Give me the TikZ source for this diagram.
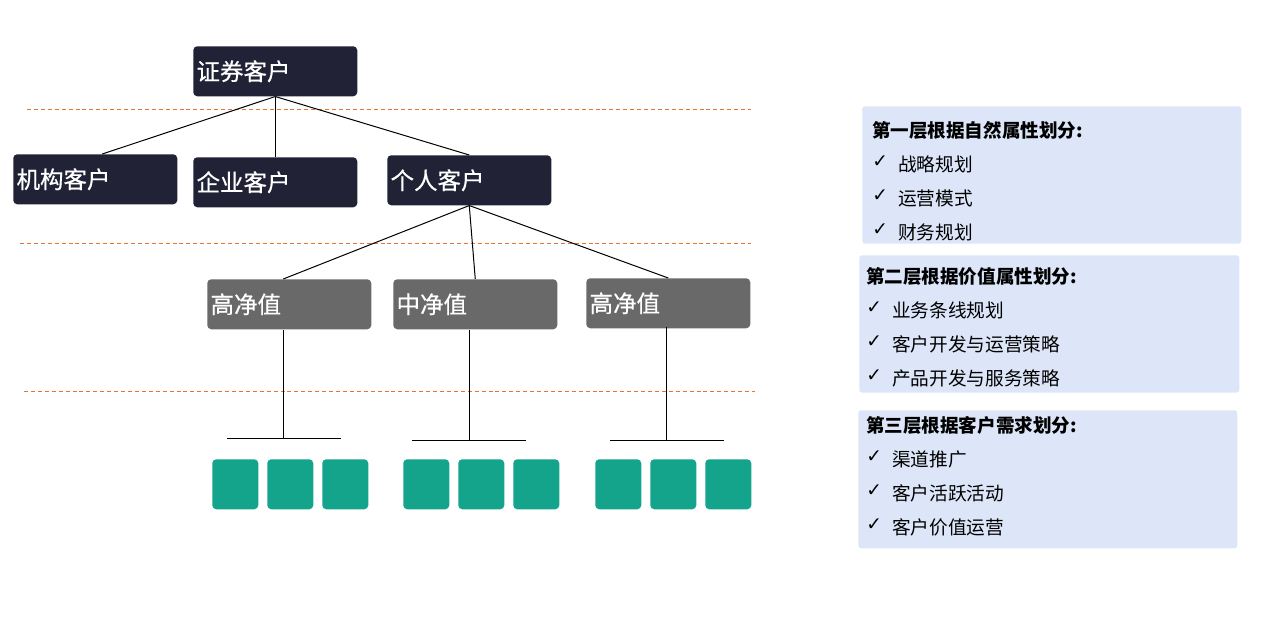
\documentclass[tikz,border=0pt]{standalone}
\usepackage{fontspec}
\usetikzlibrary{calc}
\newfontfamily\cjk{Noto Sans CJK SC}
\newfontfamily\cjkm[FakeBold=0.6]{Noto Sans CJK SC}
\newfontfamily\symf{DejaVu Sans}
\definecolor{navy}{HTML}{212236}
\definecolor{midgray}{HTML}{696969}
\definecolor{teal2}{HTML}{14A38B}
\definecolor{paleblue}{HTML}{DCE6F8}
\definecolor{dashor}{HTML}{E8742E}
\tikzset{
  lvlbox/.style={draw=none, rounded corners=3pt, minimum width=123pt, minimum height=37.5pt,
    text width=118pt, inner xsep=2.5pt, align=left, text=white, font=\cjkm\fontsize{17.6}{20}\selectfont, anchor=north west},
  topbox/.style={lvlbox, fill=navy},
  graybox/.style={lvlbox, fill=midgray},
  leaf/.style={fill=teal2, rounded corners=3pt, minimum width=34.5pt, minimum height=37.5pt, inner sep=0pt, anchor=north west},
  conn/.style={draw=black, line width=0.75pt},
  sep/.style={draw=dashor, line width=0.6pt, dash pattern=on 3pt off 2.2pt},
  infobox/.style={fill=paleblue, rounded corners=2pt, inner sep=0pt, anchor=north west, minimum height=103pt},
  infotitle/.style={anchor=west, font=\cjk\bfseries\fontsize{13.9}{16}\selectfont, inner sep=0pt},
  infoitem/.style={anchor=west, font=\cjk\fontsize{14}{16}\selectfont, inner sep=0pt},
  tick/.style={anchor=west, font=\symf\fontsize{14}{16}\selectfont, inner sep=0pt}
}
\begin{document}
\begin{tikzpicture}[x=0.75pt,y=-0.75pt]
\useasboundingbox (0,0) rectangle (1271,639);
% dashed separators
\coordinate (s1a) at (27,109); \coordinate (s1b) at (751,109);
\coordinate (s2a) at (20,243); \coordinate (s2b) at (751,243);
\coordinate (s3a) at (24,391); \coordinate (s3b) at (755,391);
\draw[sep] (s1a) -- (s1b);
\draw[sep] (s2a) -- (s2b);
\draw[sep] (s3a) -- (s3b);
% level nodes
\node[topbox] (root) at (193,46) {证券客户};
\node[topbox] (jg) at (13,154) {机构客户};
\node[topbox] (qy) at (193,157) {企业客户};
\node[topbox] (gr) at (387,155) {个人客户};
\node[graybox] (h1) at (207,279) {高净值};
\node[graybox] (m1) at (393,279) {中净值};
\node[graybox] (h2) at (586,278) {高净值};
% connectors
\draw[conn] (root.south) -- ($(jg.north)+(5.25pt,0)$);
\draw[conn] (root.south) -- (qy.north);
\draw[conn] (root.south) -- (gr.north);
\draw[conn] (gr.south) -- ($(h1.north)+(-4.5pt,0)$);
\draw[conn] (gr.south) -- (m1.north);
\draw[conn] (gr.south) -- (h2.north);
% bars
\coordinate (b1) at (283,438); \coordinate (b1l) at (227,438); \coordinate (b1r) at (341,438);
\coordinate (b2) at (469,440); \coordinate (b2l) at (412,440); \coordinate (b2r) at (526,440);
\coordinate (b3) at (666,440); \coordinate (b3l) at (610,440); \coordinate (b3r) at (724,440);
\draw[conn] (h1.south -| b1) -- (b1);
\draw[conn] (m1.south -| b2) -- (b2);
\draw[conn] ($(h2.south -| b3)+(0,1.5pt)$) -- (b3);
\draw[conn] (b1l) -- (b1r);
\draw[conn] (b2l) -- (b2r);
\draw[conn] (b3l) -- (b3r);
% leaves
\foreach \x [count=\i] in {212,267,322,403,458,513,595,650,705}
  \node[leaf] (leaf\i) at (\x,459) {};
% info boxes
\node[infobox, minimum width=284.25pt] (ib1) at (862,106) {};
\node[infobox, minimum width=285pt] (ib2) at (859,255) {};
\node[infobox, minimum width=284.25pt, minimum height=103.5pt] (ib3) at (858,410) {};
\node[infotitle] (t1) at (872,130) {第一层根据自然属性划分:};
\node[tick] (k11) at (872,162) {✓}; \node[infoitem] (i11) at (898,164) {战略规划};
\node[tick] (k12) at (872,196) {✓}; \node[infoitem] (i12) at (898,198) {运营模式};
\node[tick] (k13) at (872,230) {✓}; \node[infoitem] (i13) at (898,232) {财务规划};
\node[infotitle] (t2) at (866,276) {第二层根据价值属性划分:};
\node[tick] (k21) at (866,308) {✓}; \node[infoitem] (i21) at (892,310) {业务条线规划};
\node[tick] (k22) at (866,342) {✓}; \node[infoitem] (i22) at (892,344) {客户开发与运营策略};
\node[tick] (k23) at (866,376) {✓}; \node[infoitem] (i23) at (892,378) {产品开发与服务策略};
\node[infotitle] (t3) at (866,425) {第三层根据客户需求划分:};
\node[tick] (k31) at (866,457) {✓}; \node[infoitem] (i31) at (892,459) {渠道推广};
\node[tick] (k32) at (866,491) {✓}; \node[infoitem] (i32) at (892,493) {客户活跃活动};
\node[tick] (k33) at (866,525) {✓}; \node[infoitem] (i33) at (892,527) {客户价值运营};
\end{tikzpicture}
\end{document}
